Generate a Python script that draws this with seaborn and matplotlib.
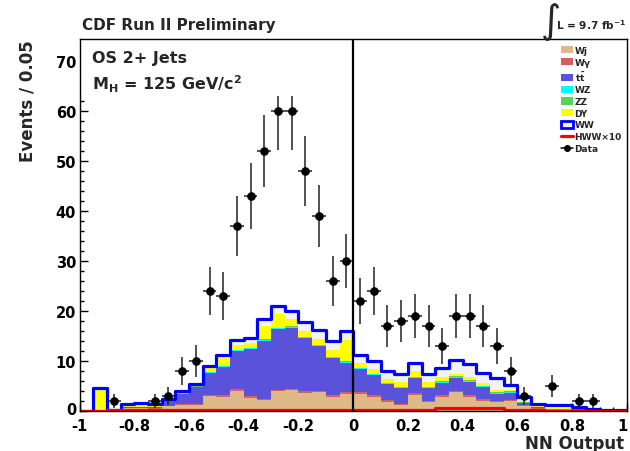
import numpy as np
import pandas as pd
import matplotlib
matplotlib.use("Agg")
import matplotlib.pyplot as plt
import matplotlib.transforms as mtransforms
import seaborn as sns
from matplotlib.patches import Patch, Rectangle
from matplotlib.lines import Line2D

# ---------------- data (NN output, 40 bins of 0.05 from -1 to 1) ----------------
bin_edges = [round(-1.0 + 0.05 * i, 4) for i in range(41)]
bin_centers = np.array([0.5 * (a + b) for a, b in zip(bin_edges[:-1], bin_edges[1:])])

wj = [0, 0, 0.1, 0.6, 0.5, 0.45, 0.9, 1.3, 1.2, 3.0,
      2.9, 4.1, 2.6, 2.1, 4.0, 4.2, 3.6, 3.7, 2.9, 3.5,
      3.5, 2.9, 1.9, 1.3, 3.2, 1.8, 2.9, 3.7, 2.9, 2.1,
      1.7, 1.9, 1.0, 0.45, 0.25, 0.25, 0.15, 0.08, 0.04, 0.04]
wg = [0, 0, 0, 0.05, 0.05, 0.05, 0.1, 0.2, 0.2, 0.3,
      0.3, 0.3, 0.3, 0.3, 0.3, 0.3, 0.3, 0.3, 0.3, 0.4,
      0.3, 0.3, 0.3, 0.2, 0.3, 0.2, 0.3, 0.3, 0.3, 0.3,
      0.2, 0.3, 0.2, 0.05, 0.05, 0.05, 0.05, 0.02, 0.01, 0.01]
ttbar = [0, 0, 0.05, 0.1, 0.2, 0.3, 1.1, 2.0, 3.4, 4.3,
         5.6, 7.6, 9.5, 11.7, 12.1, 12.2, 10.7, 9.0, 7.4, 5.8,
         4.6, 4.0, 3.2, 3.1, 3.1, 2.6, 2.5, 2.7, 2.7, 2.3,
         1.5, 1.4, 0.4, 0.3, 0.2, 0.2, 0.2, 0.05, 0.05, 0.05]
wz = [0, 0, 0, 0, 0, 0, 0.05, 0.1, 0.1, 0.2,
      0.2, 0.2, 0.2, 0.2, 0.2, 0.2, 0.2, 0.2, 0.2, 0.2,
      0.2, 0.2, 0.2, 0.2, 0.2, 0.2, 0.2, 0.2, 0.2, 0.2,
      0.2, 0.2, 0.05, 0, 0, 0, 0, 0, 0, 0]
zz = [0, 0, 0, 0, 0, 0, 0.05, 0.05, 0.05, 0.1,
      0.1, 0.1, 0.1, 0.1, 0.1, 0.1, 0.1, 0.1, 0.1, 0.1,
      0.1, 0.1, 0.1, 0.1, 0.1, 0.1, 0.1, 0.1, 0.1, 0.1,
      0.1, 0.1, 0.05, 0, 0, 0, 0, 0, 0, 0]
dy = [0, 4.5, 0.05, 0.55, 0.75, 0.5, 0.2, 0.3, 0.3, 0.8,
      1.9, 1.0, 1.0, 2.6, 2.7, 1.4, 1.1, 1.2, 1.3, 4.2,
      1.0, 1.0, 0.8, 1.0, 1.1, 1.0, 0.9, 0.5, 0.7, 0.5,
      0.5, 0.3, 0.2, 0.1, 0.1, 0.1, 0.1, 0.05, 0, 0]
ww = [0, 0.1, 0.1, 0.1, 0.1, 0.1, 0.1, 0.15, 0.15, 0.4,
      0.3, 0.9, 1.0, 1.4, 1.6, 1.7, 1.9, 1.8, 1.9, 1.8,
      1.5, 1.6, 1.6, 1.5, 1.7, 1.6, 1.8, 2.7, 2.6, 2.2,
      2.4, 1.0, 1.0, 0.6, 0.5, 0.5, 0.4, 0.2, 0.1, 0.1]
hww_x10 = [0.1, 0.1, 0.2, 0.2, 0.2, 0.2, 0.2, 0.2, 0.2, 0.2,
           0.2, 0.2, 0.2, 0.2, 0.2, 0.2, 0.2, 0.2, 0.2, 0.2,
           0.3, 0.3, 0.3, 0.3, 0.3, 0.3, 0.6, 0.6, 0.6, 0.6,
           0.6, 0.3, 0.3, 0.3, 0.1, 0.1, 0.1, 0.1, 0.1, 0.1]
data_counts = [0, 0, 2, 0, 0, 2, 3, 8, 10, 24,
               23, 37, 43, 52, 60, 60, 48, 39, 26, 30,
               22, 24, 17, 18, 19, 17, 13, 19, 19, 17,
               13, 8, 3, 0, 5, 0, 2, 2, 0, 0]

process_names = ["Wj", "Wγ", "tt", "WZ", "ZZ", "DY", "WW"]
legend_labels = ["Wj", "Wγ", r"t$\bar{t}$", "WZ", "ZZ", "DY", "WW", "HWW×10", "Data"]
x_tick_values = [-1, -0.8, -0.6, -0.4, -0.2, 0, 0.2, 0.4, 0.6, 0.8, 1]
x_tick_labels = ["-1", "-0.8", "-0.6", "-0.4", "-0.2", "0", "0.2", "0.4", "0.6", "0.8", "1"]
y_tick_values = [0, 10, 20, 30, 40, 50, 60, 70]

# ---------------- styling ----------------
colors = {"Wj": "#deb887", "Wγ": "#d2625c", "tt": "#5a52d8", "WZ": "#00ffff",
          "ZZ": "#58d258", "DY": "#ffff00", "WW": "#f2f2f2"}

sns.set_style("ticks")
plt.rcParams["font.family"] = ["DejaVu Sans"]
plt.rcParams["font.weight"] = "bold"
plt.rcParams["mathtext.fontset"] = "dejavusans"
plt.rcParams["mathtext.default"] = "bf"

W, H = 630, 452
fig = plt.figure(figsize=(W / 100, H / 100), dpi=100)
ax_l, ax_r, ax_t, ax_b = 79.5, 627, 40, 412
ax = fig.add_axes([ax_l / W, 1 - ax_b / H, (ax_r - ax_l) / W, (ax_b - ax_t) / H])

def fpx(x, y):
    return (x / W, 1 - y / H)

# long table for the stacked histogram
comp_values = {"Wj": wj, "Wγ": wg, "tt": ttbar, "WZ": wz, "ZZ": zz, "DY": dy, "WW": ww}
rows = []
for name in process_names:
    for c, v in zip(bin_centers, comp_values[name]):
        rows.append({"nn": c, "w": v, "proc": name})
df = pd.DataFrame(rows)

sns.histplot(data=df, x="nn", weights="w", hue="proc",
             hue_order=process_names[::-1], multiple="stack",
             bins=bin_edges, element="step", palette=colors,
             alpha=1, linewidth=0, legend=False, ax=ax, zorder=1)

total = np.sum([np.array(comp_values[n]) for n in process_names], axis=0)
sns.histplot(x=bin_centers, weights=total, bins=bin_edges, element="step",
             fill=False, color="#0000ff", linewidth=2.3, ax=ax, zorder=2)
sns.histplot(x=bin_centers, weights=hww_x10, bins=bin_edges, element="step",
             fill=False, color="#ff0000", linewidth=2.3, ax=ax, zorder=2.5)

dc = np.array(data_counts, dtype=float)
m = dc > 0
ax.errorbar(bin_centers[m], dc[m], yerr=np.sqrt(dc[m]), xerr=0.025,
            fmt="o", ms=5.2, color="black", ecolor="#222222",
            elinewidth=1.1, capsize=0, zorder=3)

# white pave covering the top-left region (as in the original)
ax.add_patch(Rectangle((-1, 63), 1.0, 20, facecolor="white", edgecolor="none", zorder=3.5))

ax.axvline(0, color="black", linewidth=1.6, zorder=4)

ax.set_xlim(-1, 1)
ax.set_ylim(0, (ax_b - ax_t) / 5.0)
ax.set_xticks(x_tick_values)
ax.set_xticklabels(x_tick_labels)
ax.set_yticks(y_tick_values)
ax.set_xticks(np.arange(-1, 1.0001, 0.05), minor=True)
ax.set_yticks(np.arange(0, 74, 2), minor=True)
ax.tick_params(axis="both", which="major", direction="in", length=6, width=1,
               labelsize=10.5, colors="black")
ax.tick_params(axis="both", which="minor", direction="in", length=3, width=1, colors="black")
ax.tick_params(axis="x", pad=5)
ax.tick_params(axis="y", pad=2.5)
for lab in ax.get_xticklabels() + ax.get_yticklabels():
    lab.set_fontweight("bold")
last = ax.get_xticklabels()[-1]
last.set_transform(last.get_transform() +
                   mtransforms.ScaledTranslation(-3.5 / 72, 0, fig.dpi_scale_trans))
first_y = ax.get_yticklabels()[0]
first_y.set_transform(first_y.get_transform() +
                      mtransforms.ScaledTranslation(0, 2.5 / 72, fig.dpi_scale_trans))
for s in ax.spines.values():
    s.set_color("black")
    s.set_linewidth(1)
    s.set_zorder(5)
ax.set_xlabel("")
ax.set_ylabel("")

# texts
fig.text(*fpx(82, 30), "CDF Run II Preliminary", fontsize=11, fontweight="bold", va="baseline")
fig.text(*fpx(92, 63), "OS 2+ Jets", fontsize=11.5, fontweight="bold", va="baseline", zorder=6)
fig.text(*fpx(92, 90), r"M$_{\mathbf{H}}$ = 125 GeV/c$^{\mathbf{2}}$", fontsize=11.5,
         fontweight="bold", va="baseline", zorder=6)
fig.text(*fpx(541, 33), "∫", fontsize=28, fontweight="normal", va="baseline")
fig.text(*fpx(556, 30), r"L = 9.7 fb$^{\mathbf{-1}}$", fontsize=7.6, fontweight="bold", va="baseline")
fig.text(*fpx(28, 40), "Events / 0.05", fontsize=12, fontweight="bold",
         rotation=90, ha="center", va="top")
fig.text(*fpx(624, 435), "NN Output", fontsize=12, fontweight="bold", ha="right", va="top")

# legend
handles = [Patch(facecolor=colors[n], edgecolor="none") for n in process_names[:6]]
handles.append(Patch(facecolor=colors["WW"], edgecolor="#0000ff", linewidth=2))
handles.append(Line2D([], [], color="#ff0000", linewidth=2.3))
handles.append(Line2D([], [], color="black", marker="o", ms=4, linewidth=1.1))
ax.legend(handles, legend_labels, loc="upper left",
          bbox_to_anchor=fpx(561, 47), bbox_transform=fig.transFigure,
          frameon=False, prop={"size": 6.5, "weight": "bold"},
          handlelength=1.3, handleheight=0.85, handletextpad=0.2,
          labelspacing=0.3, borderpad=0, borderaxespad=0)

fig.savefig("out.png", dpi=100)
